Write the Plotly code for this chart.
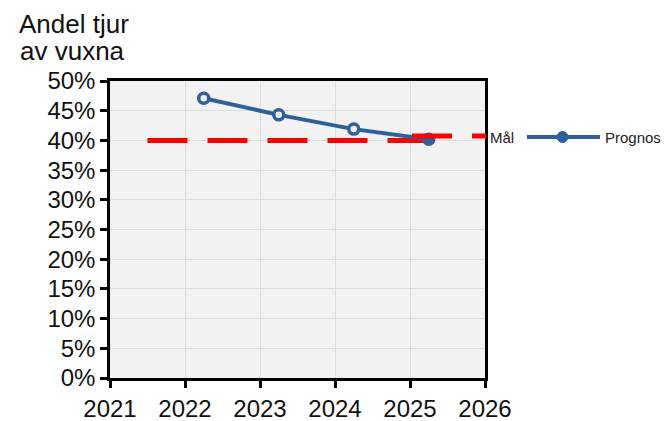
import plotly.graph_objects as go

years = [2022.25, 2023.25, 2024.25, 2025.25]
prognos = [47.1, 44.3, 41.9, 40.2]
mal_x = [2021.5, 2025.25]
mal_y = [40, 40]
x_ticks = [2021, 2022, 2023, 2024, 2025, 2026]
y_ticks = list(range(0, 51, 5))
y_labels = [f"{v}%" for v in y_ticks]

BLUE = "#30609a"
RED = "#ff0000"
BG = "#f2f2f2"
FONT = "Liberation Sans, Arial, sans-serif"

fig = go.Figure()
fig.add_trace(go.Scatter(x=mal_x, y=mal_y, mode="lines", name="Mål",
                         line=dict(color=RED, width=5, dash="40px,20px"),
                         showlegend=False))
fig.add_trace(go.Scatter(x=years, y=prognos, mode="lines+markers", name="Prognos",
                         line=dict(color=BLUE, width=4),
                         marker=dict(size=10, color=[BG, BG, BG, BLUE],
                                     line=dict(color=BLUE, width=3.5)),
                         showlegend=False))

# page body has an 8px margin; positions below are in window pixels
def px_x(p):
    return (p - 110) / 375.0
def px_y(p):
    return (378 - p) / 297.0

fig.add_shape(type="line", xref="paper", yref="paper",
              x0=px_x(412), x1=px_x(486), y0=px_y(136), y1=px_y(136),
              line=dict(color=RED, width=5, dash="40px,20px"))
fig.add_annotation(xref="paper", yref="paper", x=px_x(488), y=px_y(137),
                   text="Mål", showarrow=False, xanchor="left", yanchor="middle",
                   font=dict(family=FONT, size=15, color="#222"))
fig.add_shape(type="line", xref="paper", yref="paper",
              x0=px_x(527), x1=px_x(600), y0=px_y(137), y1=px_y(137),
              line=dict(color=BLUE, width=4))
fig.add_shape(type="circle", xref="paper", yref="paper",
              x0=px_x(557), x1=px_x(568), y0=px_y(131.5), y1=px_y(142.5),
              fillcolor=BLUE, line=dict(color=BLUE, width=1))
fig.add_annotation(xref="paper", yref="paper", x=px_x(603), y=px_y(137),
                   text="Prognos", showarrow=False, xanchor="left", yanchor="middle",
                   font=dict(family=FONT, size=15, color="#222"))

fig.add_annotation(xref="paper", yref="paper", x=px_x(17), y=px_y(24),
                   text="Andel tjur", showarrow=False,
                   xanchor="left", yanchor="middle", align="left",
                   font=dict(family=FONT, size=26, color="#111"))
fig.add_annotation(xref="paper", yref="paper", x=px_x(18), y=px_y(51),
                   text="av vuxna", showarrow=False,
                   xanchor="left", yanchor="middle", align="left",
                   font=dict(family=FONT, size=26, color="#111"))

fig.update_layout(
    width=663, height=413,
    margin=dict(l=102, r=186, t=73, b=43),
    paper_bgcolor="white", plot_bgcolor=BG,
    font=dict(family=FONT, size=24, color="#111"),
    showlegend=False,
)
fig.update_xaxes(range=[2021, 2026], tickvals=x_ticks, ticktext=[str(v) for v in x_ticks],
                 showgrid=True, gridcolor="#dcdcdc", gridwidth=1,
                 showline=True, linecolor="black", linewidth=2.5, mirror=True,
                 ticks="outside", ticklen=7, tickwidth=2.5, tickcolor="black",
                 zeroline=False, tickfont=dict(size=24), automargin=False)
fig.update_yaxes(range=[0, 50], tickvals=y_ticks, ticktext=y_labels,
                 showgrid=True, gridcolor="#dcdcdc", gridwidth=1,
                 showline=True, linecolor="black", linewidth=2.5, mirror=True,
                 ticks="outside", ticklen=7, tickwidth=2.5, tickcolor="black",
                 zeroline=False, tickfont=dict(size=24), automargin=False)

fig.write_html("out.html")
